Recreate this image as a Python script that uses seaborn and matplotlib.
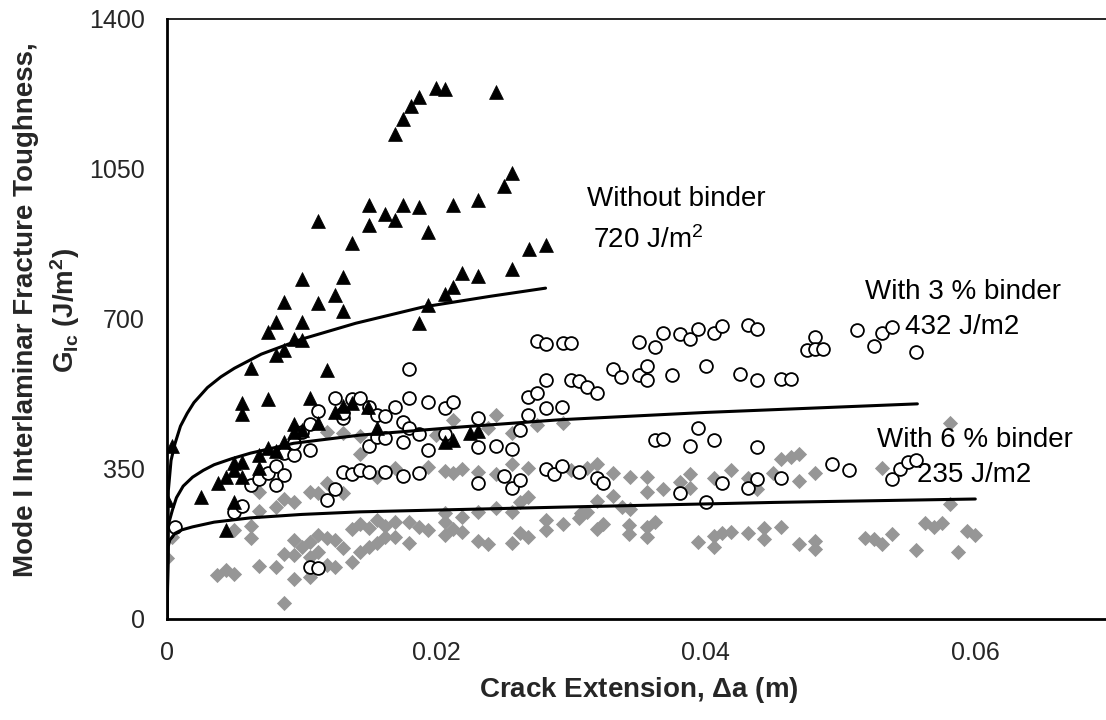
import matplotlib
matplotlib.use('Agg')
import matplotlib.pyplot as plt
import seaborn as sns

# Crack extension (m) and G_Ic (J/m2)

# without binder (black triangles)
tri_x = [0.0200, 0.0206, 0.0244, 0.0187, 0.0181, 0.0175, 0.0169, 0.0256, 0.0250, 0.0150,
         0.0175, 0.0187, 0.0212, 0.0231, 0.0162, 0.0169, 0.0112, 0.0150, 0.0194, 0.0137,
         0.0269, 0.0281, 0.0100, 0.0131, 0.0219, 0.0231, 0.0256, 0.0087, 0.0112, 0.0125,
         0.0212, 0.0206, 0.0194, 0.0131, 0.0081, 0.0100, 0.0075, 0.0187, 0.0094, 0.0100,
         0.0087, 0.0081, 0.0004, 0.0000, 0.0062, 0.0119, 0.0056, 0.0056, 0.0075, 0.0106,
         0.0125, 0.0131, 0.0137, 0.0149, 0.0094, 0.0112, 0.0094, 0.0100, 0.0156, 0.0087,
         0.0075, 0.0081, 0.0068, 0.0056, 0.0050, 0.0068, 0.0050, 0.0044, 0.0056, 0.0038,
         0.0025, 0.0050, 0.0044, 0.0206, 0.0212, 0.0225, 0.0231]
tri_y = [1239, 1237, 1230, 1218, 1197, 1167, 1132, 1041, 1010, 966,
         966, 961, 966, 978, 945, 931, 929, 919, 903, 877,
         863, 873, 793, 798, 807, 800, 817, 740, 737, 756,
         775, 758, 733, 719, 693, 693, 670, 691, 653, 651,
         628, 616, 404, 278, 585, 581, 504, 478, 513, 516,
         483, 497, 504, 495, 455, 457, 436, 441, 446, 413,
         399, 392, 383, 366, 364, 352, 348, 331, 331, 317,
         285, 273, 208, 413, 418, 434, 439]

# with 3 % binder (open circles)
circ_x = [0.0000, 0.0006, 0.0050, 0.0056, 0.0062, 0.0068, 0.0075, 0.0081, 0.0087, 0.0081,
          0.0087, 0.0094, 0.0094, 0.0100, 0.0106, 0.0106, 0.0112, 0.0125, 0.0137, 0.0143,
          0.0131, 0.0131, 0.0150, 0.0156, 0.0162, 0.0169, 0.0175, 0.0180, 0.0180, 0.0180,
          0.0194, 0.0206, 0.0212, 0.0187, 0.0175, 0.0194, 0.0206, 0.0150, 0.0156, 0.0162,
          0.0231, 0.0231, 0.0244, 0.0256, 0.0262, 0.0268, 0.0268, 0.0275, 0.0281, 0.0281,
          0.0275, 0.0281, 0.0131, 0.0137, 0.0143, 0.0150, 0.0162, 0.0175, 0.0187, 0.0125,
          0.0119, 0.0106, 0.0112, 0.0231, 0.0250, 0.0256, 0.0262, 0.0281, 0.0287,
          0.0294, 0.0300, 0.0350, 0.0362, 0.0368, 0.0381, 0.0388, 0.0394, 0.0406, 0.0412,
          0.0431, 0.0438, 0.0475, 0.0481, 0.0481, 0.0487, 0.0512, 0.0525, 0.0531, 0.0538,
          0.0556, 0.0300, 0.0306, 0.0312, 0.0319, 0.0331, 0.0337, 0.0350, 0.0356, 0.0356,
          0.0375, 0.0400, 0.0425, 0.0438, 0.0456, 0.0463, 0.0293, 0.0362, 0.0368, 0.0394,
          0.0388, 0.0406, 0.0438, 0.0293, 0.0306, 0.0319, 0.0324, 0.0381, 0.0400, 0.0412,
          0.0431, 0.0438, 0.0456, 0.0494, 0.0506, 0.0538, 0.0544, 0.0550, 0.0556]
circ_y = [200, 215, 250, 264, 313, 327, 341, 357, 336, 313,
          387, 383, 411, 436, 394, 455, 485, 516, 513, 516,
          469, 481, 495, 476, 474, 495, 460, 446, 516, 583,
          506, 492, 506, 432, 413, 394, 432, 404, 425, 423,
          469, 401, 404, 397, 441, 476, 518, 527, 492, 558,
          649, 642, 343, 338, 348, 343, 343, 334, 341, 303,
          278, 121, 119, 317, 334, 306, 324, 350, 338,
          644, 644, 647, 635, 667, 665, 653, 677, 667, 684,
          686, 677, 628, 658, 630, 630, 674, 637, 667, 681,
          623, 558, 555, 541, 527, 583, 565, 569, 590, 558,
          569, 590, 572, 558, 560, 560, 495, 418, 420, 446,
          404, 418, 401, 357, 343, 329, 317, 294, 273, 317,
          306, 327, 329, 362, 348, 327, 350, 366, 371]

# with 6 % binder (grey diamonds)
dia_x = [0.0000, 0.0037, 0.0044, 0.0050, 0.0068, 0.0081, 0.0087, 0.0094, 0.0106, 0.0050,
         0.0062, 0.0062, 0.0068, 0.0081, 0.0068, 0.0087, 0.0094, 0.0087, 0.0094, 0.0094,
         0.0100, 0.0106, 0.0106, 0.0112, 0.0112, 0.0119, 0.0125, 0.0119, 0.0125, 0.0131,
         0.0137, 0.0143, 0.0150, 0.0156, 0.0137, 0.0143, 0.0150, 0.0156, 0.0162, 0.0162,
         0.0169, 0.0169, 0.0180, 0.0180, 0.0187, 0.0194, 0.0206, 0.0206, 0.0212, 0.0219,
         0.0231, 0.0238, 0.0256, 0.0262, 0.0268, 0.0281, 0.0281, 0.0206, 0.0219, 0.0231,
         0.0244, 0.0256, 0.0262, 0.0268, 0.0106, 0.0112, 0.0119, 0.0131, 0.0143, 0.0156,
         0.0169, 0.0194, 0.0206, 0.0212, 0.0219, 0.0231, 0.0244, 0.0256, 0.0268, 0.0119,
         0.0131, 0.0143, 0.0212, 0.0244, 0.0238, 0.0256, 0.0275, 0.0200, 0.0004,
         0.0294, 0.0300, 0.0319, 0.0312, 0.0331, 0.0344, 0.0356, 0.0356, 0.0368, 0.0381,
         0.0388, 0.0388, 0.0406, 0.0419, 0.0431, 0.0438, 0.0450, 0.0456, 0.0463, 0.0469,
         0.0469, 0.0481, 0.0531, 0.0581, 0.0319, 0.0331, 0.0338, 0.0344, 0.0307, 0.0312,
         0.0294, 0.0306, 0.0319, 0.0324, 0.0343, 0.0343, 0.0356, 0.0356, 0.0362, 0.0394,
         0.0406, 0.0406, 0.0412, 0.0419, 0.0431, 0.0443, 0.0443, 0.0456, 0.0469, 0.0481,
         0.0481, 0.0518, 0.0525, 0.0531, 0.0538, 0.0556, 0.0563, 0.0569, 0.0575, 0.0581,
         0.0587, 0.0594, 0.0600]
dia_y = [142, 103, 114, 105, 124, 121, 37, 93, 98, 208,
         217, 189, 252, 261, 296, 280, 273, 152, 149, 184,
         168, 180, 145, 156, 196, 189, 184, 126, 121, 166,
         133, 156, 168, 177, 210, 222, 212, 231, 217, 191,
         226, 191, 226, 177, 215, 208, 226, 196, 210, 203,
         182, 175, 177, 201, 191, 231, 208, 247, 238, 249,
         259, 250, 273, 285, 296, 294, 317, 294, 385, 331,
         352, 355, 345, 341, 350, 343, 338, 362, 352, 436,
         434, 427, 464, 476, 446, 434, 453, 429, 191,
         457, 348, 362, 352, 341, 331, 331, 296, 303, 320,
         338, 306, 329, 348, 329, 303, 341, 373, 378, 385,
         322, 341, 352, 457, 275, 287, 261, 257, 247, 250,
         222, 236, 210, 222, 219, 198, 215, 191, 226, 180,
         168, 194, 201, 203, 201, 212, 187, 215, 175, 182,
         163, 189, 187, 175, 198, 161, 224, 215, 224, 268,
         156, 205, 196]

# trend lines, points
fit0_x = [0, 0.0001, 0.0003, 0.0006, 0.001, 0.0015, 0.002, 0.003, 0.004, 0.005,
          0.007, 0.010, 0.014, 0.019, 0.024, 0.0281]
fit0_y = [0, 300, 370, 410, 450, 480, 505, 540, 565, 585,
          618, 653, 690, 728, 753, 772]
fit3_x = [0, 0.0001, 0.0004, 0.0007, 0.0012, 0.0019, 0.0027, 0.0035, 0.0048, 0.0062,
          0.0094, 0.0143, 0.0218, 0.0292, 0.040, 0.0557]
fit3_y = [0, 220, 254, 283, 310, 331, 347, 360, 374, 387,
          410, 429, 448, 465, 482, 502]
fit6_x = [0, 0.0001, 0.0002, 0.0006, 0.0011, 0.0019, 0.0035, 0.0062, 0.0100, 0.0143,
          0.0292, 0.045, 0.060]
fit6_y = [0, 170, 184, 200, 208, 215, 226, 236, 244, 250,
          261, 272, 280]

x_ticks = [0, 0.02, 0.04, 0.06]
x_tick_labels = ['0', '0.02', '0.04', '0.06']
y_ticks = [0, 350, 700, 1050, 1400]

sns.set_style('white')
plt.rcParams['font.family'] = ['Liberation Sans', 'DejaVu Sans']
plt.rcParams['mathtext.fontset'] = 'custom'
plt.rcParams['mathtext.rm'] = 'Liberation Sans'
plt.rcParams['mathtext.bf'] = 'Liberation Sans:bold'
plt.rcParams['mathtext.default'] = 'regular'

fig = plt.figure(figsize=(11.06, 7.2), dpi=100)
ax = fig.add_axes([167 / 1106, 101 / 720, 943 / 1106, 600 / 720])

sns.scatterplot(x=dia_x, y=dia_y, marker='D', s=60, color='#969696', edgecolor='#969696', linewidth=0, ax=ax, zorder=2)
sns.scatterplot(x=circ_x, y=circ_y, marker='o', s=85, color='white', edgecolor='black', linewidth=1.3, ax=ax, zorder=3)
sns.scatterplot(x=tri_x, y=tri_y, marker='^', s=100, color='black', edgecolor='black', linewidth=0.5, ax=ax, zorder=4)

for fx, fy in [(fit0_x, fit0_y), (fit3_x, fit3_y), (fit6_x, fit6_y)]:
    sns.lineplot(x=fx, y=fy, sort=False, estimator=None, color='black', lw=2.2, ax=ax, zorder=5)

ax.set_xlim(0, 0.07)
ax.set_ylim(0, 1400)
ax.set_xticks(x_ticks)
ax.set_xticklabels(x_tick_labels)
ax.set_yticks(y_ticks)
ax.tick_params(axis='both', direction='out', length=6, width=1, color='#444444', labelsize=18, pad=10)

for side in ['left', 'bottom']:
    ax.spines[side].set_color('black')
    ax.spines[side].set_linewidth(2)
ax.spines['top'].set_color('black')
ax.spines['top'].set_linewidth(1.2)
ax.spines['right'].set_visible(False)

ax.set_xlabel(r'Crack Extension, $\mathbf{\Delta}$a (m)', fontsize=20, fontweight='bold')
ax.xaxis.set_label_coords(0.5, -0.118)
ax.xaxis.label.set_va('center')
ax.set_ylabel('Mode I Interlaminar Fracture Toughness,\nG$_\\mathbf{Ic}$ (J/m$^\\mathbf{2}$)',
              fontsize=20, fontweight='bold', linespacing=1.35)
ax.yaxis.set_label_coords(-0.127, 0.515)
ax.yaxis.label.set_va('center')

txt = dict(fontsize=20, ha='left', va='center', color='black')
ax.text(0.0312, 980, 'Without binder', **txt)
ax.text(0.0316, 884, '720 J/m$^2$', **txt)
ax.text(0.0518, 763, 'With 3 % binder', **txt)
ax.text(0.0548, 681, '432 J/m2', **txt)
ax.text(0.0527, 418, 'With 6 % binder', **txt)
ax.text(0.0557, 336, '235 J/m2', **txt)

fig.savefig('out.png', dpi=100)
